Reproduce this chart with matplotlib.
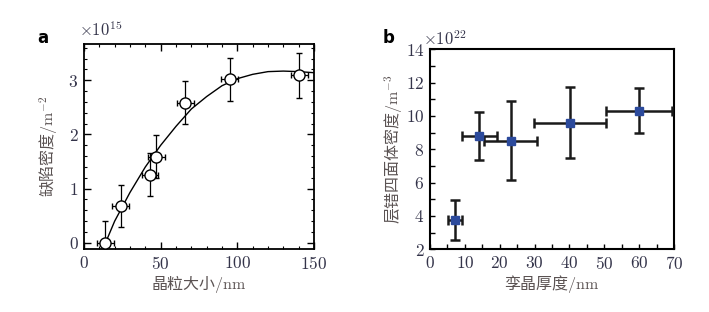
import matplotlib
matplotlib.use("Agg")
import matplotlib.pyplot as plt
from matplotlib.ticker import MultipleLocator

plt.rcParams['mathtext.fontset'] = 'cm'
plt.rcParams['axes.formatter.use_mathtext'] = True

# panel a: defect density vs grain size
grain_x = [14, 24, 43, 47, 66, 95, 140.5]
grain_y = [0.0, 0.68, 1.26, 1.59, 2.59, 3.02, 3.09]
grain_xerr = [5.5, 5.5, 5.5, 5.5, 5.5, 5.5, 5.5]
grain_yerr = [0.41, 0.39, 0.39, 0.40, 0.40, 0.40, 0.42]

# fitted curve
fit_x = [13, 20, 30, 40, 50, 60, 70, 80, 90, 100, 110, 120, 130, 140, 150]
fit_y = [-0.07, 0.40, 0.93, 1.40, 1.80, 2.15, 2.47, 2.70, 2.90, 3.03, 3.11, 3.16, 3.17, 3.16, 3.14]

# panel b: SFT density vs twin thickness
twin_x = [7.2, 14.1, 23.2, 40.2, 60.0]
twin_y = [3.76, 8.80, 8.52, 9.60, 10.32]
twin_xerr = [2.05, 5.0, 7.6, 10.4, 9.5]
twin_yerr = [1.22, 1.45, 2.38, 2.13, 1.37]

TICK_COLOR = "#34344a"
LABEL_COLOR = "#5a5252"
CJK = ['Noto Sans CJK SC', 'DejaVu Sans']
TICK_SIZE = 12.5
LABEL_SIZE = 11.5

fig = plt.figure(figsize=(7.09, 3.12), dpi=100)
ax_a = fig.add_axes([84 / 709, 1 - 249.3 / 312, 230 / 709, 205.3 / 312])
ax_b = fig.add_axes([430 / 709, 1 - 249.3 / 312, 244 / 709, 200 / 312])

# ---- panel a ----
ax_a.plot(fit_x, fit_y, color="black", lw=1.0, zorder=2)
ax_a.errorbar(grain_x, grain_y, xerr=grain_xerr, yerr=grain_yerr, fmt="o",
              mfc="white", mec="black", mew=1.0, ms=8, ecolor="black",
              elinewidth=0.9, capsize=2.5, capthick=0.9, zorder=3)
ax_a.set_xlim(0, 150)
ax_a.set_ylim(-0.12, 3.67)
ax_a.xaxis.set_major_locator(MultipleLocator(50))
ax_a.xaxis.set_minor_locator(MultipleLocator(10))
ax_a.yaxis.set_major_locator(MultipleLocator(1))
ax_a.yaxis.set_minor_locator(MultipleLocator(0.2))
ax_a.tick_params(which="both", direction="in", top=True, right=True,
                 colors="black", labelcolor=TICK_COLOR, labelsize=TICK_SIZE, pad=4)
ax_a.tick_params(which="major", length=5, width=1.0)
ax_a.tick_params(which="minor", length=2.5, width=0.8)
for s in ax_a.spines.values():
    s.set_linewidth(1.3)
ax_a.set_xlabel(r"晶粒大小$/\mathrm{nm}$", family=CJK, fontsize=LABEL_SIZE,
                color=LABEL_COLOR, labelpad=1)
ax_a.set_ylabel(r"缺陷密度$/\mathrm{m}^{-2}$", family=CJK, fontsize=LABEL_SIZE,
                color=LABEL_COLOR, labelpad=6)
ax_a.text(-0.02, 1.02, r"$\times 10^{15}$", transform=ax_a.transAxes,
          fontsize=12, color=TICK_COLOR, ha="left", va="bottom")
fig.text(37 / 709, 1 - 38 / 312, "a", fontsize=12, fontweight="bold",
         ha="left", va="center")

# ---- panel b ----
ax_b.errorbar(twin_x, twin_y, xerr=twin_xerr, yerr=twin_yerr, fmt="s",
              mfc="#2c4a9c", mec="#2c4a9c", ms=6, ecolor="#1a1a1a",
              elinewidth=1.8, capsize=3.5, capthick=1.8, zorder=3)
ax_b.set_xlim(0, 70)
ax_b.set_ylim(2, 14)
ax_b.xaxis.set_major_locator(MultipleLocator(10))
ax_b.xaxis.set_minor_locator(MultipleLocator(5))
ax_b.yaxis.set_major_locator(MultipleLocator(2))
ax_b.yaxis.set_minor_locator(MultipleLocator(1))
ax_b.tick_params(which="both", direction="in", top=False, right=False,
                 colors="black", labelcolor=TICK_COLOR, labelsize=TICK_SIZE, pad=4)
ax_b.tick_params(which="major", length=3.5, width=1.0)
ax_b.tick_params(which="minor", length=3.5, width=1.0)
for s in ax_b.spines.values():
    s.set_linewidth(1.5)
ax_b.set_xlabel(r"孪晶厚度$/\mathrm{nm}$", family=CJK, fontsize=LABEL_SIZE,
                color=LABEL_COLOR, labelpad=1)
ax_b.set_ylabel(r"层错四面体密度$/\mathrm{m}^{-3}$", family=CJK, fontsize=LABEL_SIZE,
                color=LABEL_COLOR, labelpad=0.5)
ax_b.text(-0.03, 1.0, r"$\times 10^{22}$", transform=ax_b.transAxes,
          fontsize=12, color=TICK_COLOR, ha="left", va="bottom")
fig.text(383 / 709, 1 - 38 / 312, "b", fontsize=12, fontweight="bold",
         ha="left", va="center")

for ax in (ax_a, ax_b):
    for lbl in ax.get_xticklabels() + ax.get_yticklabels():
        lbl.set_family("cmr10")

fig.savefig("out.png", dpi=100)
